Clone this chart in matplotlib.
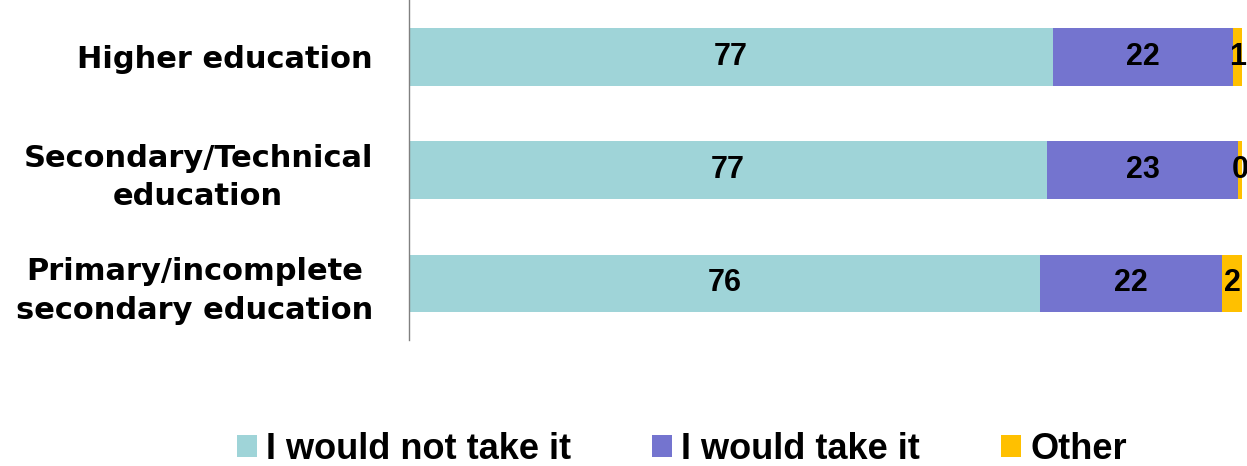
import matplotlib.pyplot as plt
import numpy as np

plt.rcParams['font.family'] = ['Liberation Sans', 'DejaVu Sans']
plt.rcParams['font.weight'] = 'bold'

categories = ['Higher education',
              'Secondary/Technical\neducation',
              'Primary/incomplete\nsecondary education']
not_take = [77.3, 76.6, 75.8]
take = [21.6, 22.9, 21.8]
other = [1.1, 0.5, 2.4]
series_names = ['I would not take it', 'I would take it', 'Other']
colors = ['#9FD4D8', '#7474CF', '#FFC000']

fig = plt.figure(figsize=(12.47, 4.66), dpi=100)
ax = fig.add_axes([0.328, 0.27, 0.668, 0.73])

y = np.arange(len(categories))
left = np.zeros(len(categories))
for vals, name, col in zip([not_take, take, other], series_names, colors):
    bars = ax.barh(y, vals, left=left, height=0.51, color=col, label=name)
    for b, v in zip(bars, vals):
        ax.text(b.get_x() + b.get_width() / 2, b.get_y() + b.get_height() / 2,
                f'{round(v):d}', ha='center', va='center',
                fontsize=22, fontweight='bold', color='black')
    left += np.array(vals)

ax.set_xlim(0, 100)
ax.set_ylim(2.5, -0.5)
ax.set_yticks(y)
ax.set_yticklabels(categories)
for lbl in ax.get_yticklabels():
    lbl.set_family('DejaVu Sans')
    lbl.set_fontsize(22)
    lbl.set_fontweight('bold')
    lbl.set_multialignment('center')
    lbl.set_linespacing(1.4)
ax.tick_params(axis='y', length=0, pad=26)
ax.set_xticks([])
for s in ['top', 'right', 'bottom']:
    ax.spines[s].set_visible(False)
ax.spines['left'].set_color('#808080')
ax.spines['left'].set_linewidth(1.0)

fig.legend(loc='center left', bbox_to_anchor=(0.190, 0.036), ncol=3, frameon=False,
           fontsize=26, handlelength=0.55, handleheight=0.55, handletextpad=0.25,
           columnspacing=2.25, borderaxespad=0, borderpad=0)

fig.savefig('out.png', dpi=100)
